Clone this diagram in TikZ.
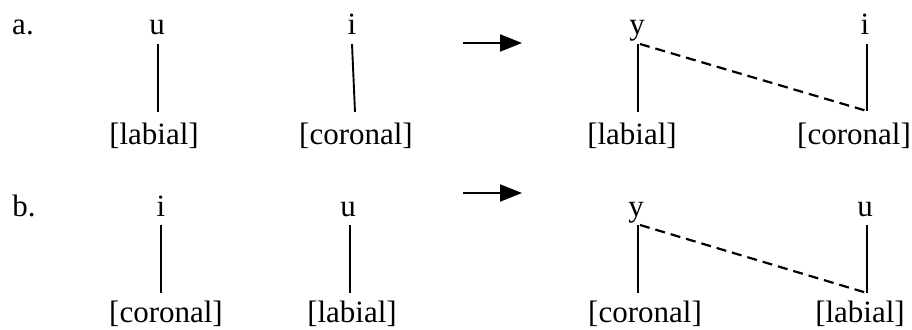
\documentclass[tikz,border=0pt]{standalone}
\usepackage{fontspec}
\setmainfont{Liberation Serif}
\usetikzlibrary{arrows.meta}
\begin{document}
\begin{tikzpicture}[x=1pt,y=1pt,
  lbl/.style={anchor=base,inner sep=0pt,font=\fontsize{31}{36}\selectfont},
  assoc/.style={line width=1.9pt},
  delink/.style={line width=2.2pt,dash pattern=on 10pt off 6pt},
  rarrow/.style={line width=1.9pt,-{Triangle[length=22pt,width=17pt]}}]
\useasboundingbox (0,0) rectangle (912,329);
% ---- row a ----
\node[lbl] (la) at (23,294) {a.};
\node[lbl] (a1) at (157,294) {u};
\node[lbl] (a2) at (352,294) {i};
\node[lbl] (a1f) at (154,184) {[labial]};
\node[lbl] (a2f) at (356,184) {[coronal]};
\coordinate (a1t) at (158,285);
\coordinate (a1b) at (158,217);
\coordinate (a2t) at (352,285);
\coordinate (a2b) at (355,217);
\draw[assoc] (a1t) -- (a1b);
\draw[assoc] (a2t) -- (a2b);
\coordinate (aS) at (463,286);
\coordinate (aE) at (522,286);
\draw[rarrow] (aS) -- (aE);
\node[lbl] (a3) at (637,294) {y};
\node[lbl] (a4) at (865,294) {i};
\node[lbl] (a3f) at (632,184) {[labial]};
\node[lbl] (a4f) at (854,184) {[coronal]};
\coordinate (a3t) at (638,285);
\coordinate (a3b) at (638,217);
\coordinate (a4t) at (867,285);
\coordinate (a4b) at (867,218);
\draw[assoc] (a3t) -- (a3b);
\draw[assoc] (a4t) -- (a4b);
\draw[delink] ([xshift=2pt]a3t) -- (a4b);
% ---- row b ----
\node[lbl] (lb) at (24,112) {b.};
\node[lbl] (b1) at (161,112) {i};
\node[lbl] (b2) at (348,112) {u};
\node[lbl] (b1f) at (166,6) {[coronal]};
\node[lbl] (b2f) at (352,6) {[labial]};
\coordinate (b1t) at (161,104);
\coordinate (b1b) at (161,36);
\coordinate (b2t) at (350,104);
\coordinate (b2b) at (350,36);
\draw[assoc] (b1t) -- (b1b);
\draw[assoc] (b2t) -- (b2b);
\coordinate (bS) at (463,136);
\coordinate (bE) at (522,136);
\draw[rarrow] (bS) -- (bE);
\node[lbl] (b3) at (636,112) {y};
\node[lbl] (b4) at (865,112) {u};
\node[lbl] (b3f) at (645,6) {[coronal]};
\node[lbl] (b4f) at (860,6) {[labial]};
\coordinate (b3t) at (638,104);
\coordinate (b3b) at (638,36);
\coordinate (b4t) at (867,104);
\coordinate (b4b) at (867,36);
\draw[assoc] (b3t) -- (b3b);
\draw[assoc] (b4t) -- (b4b);
\draw[delink] ([xshift=2pt]b3t) -- (b4b);
\end{tikzpicture}
\end{document}
